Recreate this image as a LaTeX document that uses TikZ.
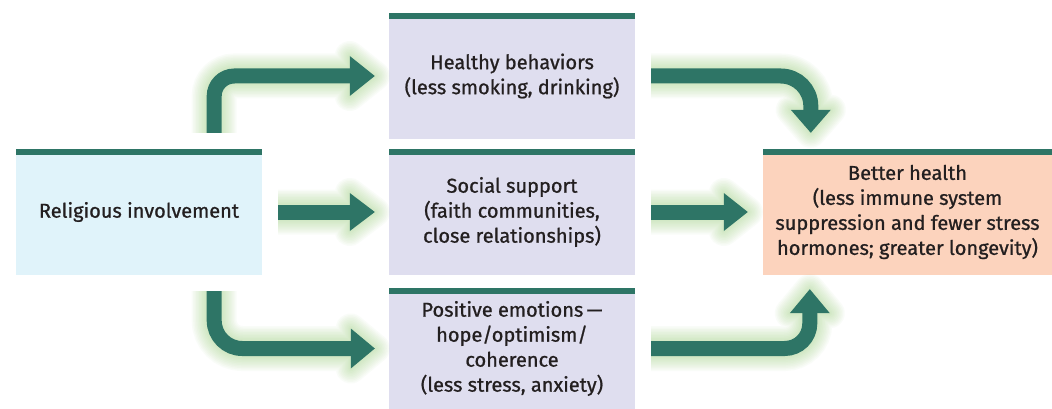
\documentclass[tikz,border=0pt]{standalone}
\usepackage{fontspec}
\setmainfont{Fira Sans}[FakeBold=0.9]
\usetikzlibrary{calc}
\definecolor{teal1}{RGB}{46,117,102}
\definecolor{relfill}{RGB}{224,243,250}
\definecolor{midfill}{RGB}{223,222,239}
\definecolor{bhfill}{RGB}{252,211,189}
\definecolor{glowc}{RGB}{160,210,130}
\definecolor{txt}{RGB}{35,31,32}
\newcommand\glowarrow[2]{%
  \foreach \w [evaluate=\w as \lw using 15+\w] in {3,6,...,30} {%
    \begin{scope}[transparency group, opacity=0.055]
      \draw[glowc, line width=\lw pt] #1;
      \draw[glowc, fill=glowc, line width=\w pt, line join=round] #2 -- cycle;
    \end{scope}
  }%
  \draw[teal1, line width=15pt] #1;
  \fill[teal1] #2 -- cycle;
}
\begin{document}
\begin{tikzpicture}[x=1pt,y=-1pt,
  box/.style={rectangle, inner sep=0pt, minimum width=246pt, minimum height=126pt,
    align=center, font=\fontsize{20}{25}\selectfont, text=txt}]
\useasboundingbox (0,0) rectangle (1052,409);
\fill[white] (0,0) rectangle (1052,409);

\node[box, fill=relfill] (rel) at (139,212) {Religious involvement};
\node[box, fill=midfill] (hb) at (512,76) {Healthy behaviors\\(less smoking, drinking)};
\node[box, fill=midfill] (ss) at (512,212) {Social support\\(faith communities,\\close relationships)};
\node[box, fill=midfill, minimum height=121pt] (pe) at (512,348.5) {Positive emotions\,—\\hope/optimism/\\coherence\\(less stress, anxiety)};
\node[box, fill=bhfill, minimum width=289pt] (bh) at (907.5,212) {Better health\\(less immune system\\suppression and fewer stress\\hormones; greater longevity)};

\foreach \n in {rel,hb,ss,pe,bh}
  \fill[teal1] (\n.north west) rectangle ([yshift=-6pt]\n.north east);

% arrow 1: religious -> healthy behaviors
\coordinate (a1s) at ([xshift=-48pt,yshift=16pt]rel.north east);
\coordinate (a1t) at ([xshift=-14pt]hb.west);
\coordinate (a1b) at ([xshift=-39pt]hb.west);
\glowarrow{[rounded corners=20pt] (a1s) -- (a1s |- a1b) -- ([xshift=2pt]a1b)}
  {([yshift=20pt]a1b) -- (a1t) -- ([yshift=-20pt]a1b)}

% arrow 2: healthy behaviors -> better health
\coordinate (a2s) at ([xshift=16pt]hb.east);
\coordinate (a2t) at ([xshift=48pt,yshift=16pt]bh.north west);
\coordinate (a2b) at ([yshift=23pt]a2t);
\glowarrow{[rounded corners=30pt] (a2s) -- (a2s -| a2b) -- ([yshift=-2pt]a2b)}
  {([xshift=-20pt]a2b) -- (a2t) -- ([xshift=20pt]a2b)}

% arrow 3: religious -> social support
\coordinate (a3s) at ([xshift=16pt]rel.east);
\coordinate (a3t) at ([xshift=-14pt]ss.west);
\coordinate (a3b) at ([xshift=-25pt]a3t);
\glowarrow{(a3s) -- ([xshift=2pt]a3b)}
  {([yshift=19pt]a3b) -- (a3t) -- ([yshift=-19pt]a3b)}

% arrow 4: social support -> better health
\coordinate (a4s) at ([xshift=16pt]ss.east);
\coordinate (a4t) at ([xshift=-15pt]bh.west);
\coordinate (a4b) at ([xshift=-24pt]a4t);
\glowarrow{(a4s) -- ([xshift=2pt]a4b)}
  {([yshift=19pt]a4b) -- (a4t) -- ([yshift=-19pt]a4b)}

% arrow 5: religious -> positive emotions
\coordinate (a5s) at ([xshift=-48pt,yshift=-16pt]rel.south east);
\coordinate (a5t) at ([xshift=-14pt]pe.west);
\coordinate (a5b) at ([xshift=-24pt]a5t);
\glowarrow{[rounded corners=28pt] (a5s) -- (a5s |- a5b) -- ([xshift=2pt]a5b)}
  {([yshift=20pt]a5b) -- (a5t) -- ([yshift=-20pt]a5b)}

% arrow 6: positive emotions -> better health
\coordinate (a6s) at ([xshift=16pt]pe.east);
\coordinate (a6t) at ([xshift=47pt,yshift=-14pt]bh.south west);
\coordinate (a6b) at ([yshift=-24pt]a6t);
\glowarrow{[rounded corners=25pt] (a6s) -- (a6s -| a6b) -- ([yshift=2pt]a6b)}
  {([xshift=-20pt]a6b) -- (a6t) -- ([xshift=20pt]a6b)}
\end{tikzpicture}
\end{document}
